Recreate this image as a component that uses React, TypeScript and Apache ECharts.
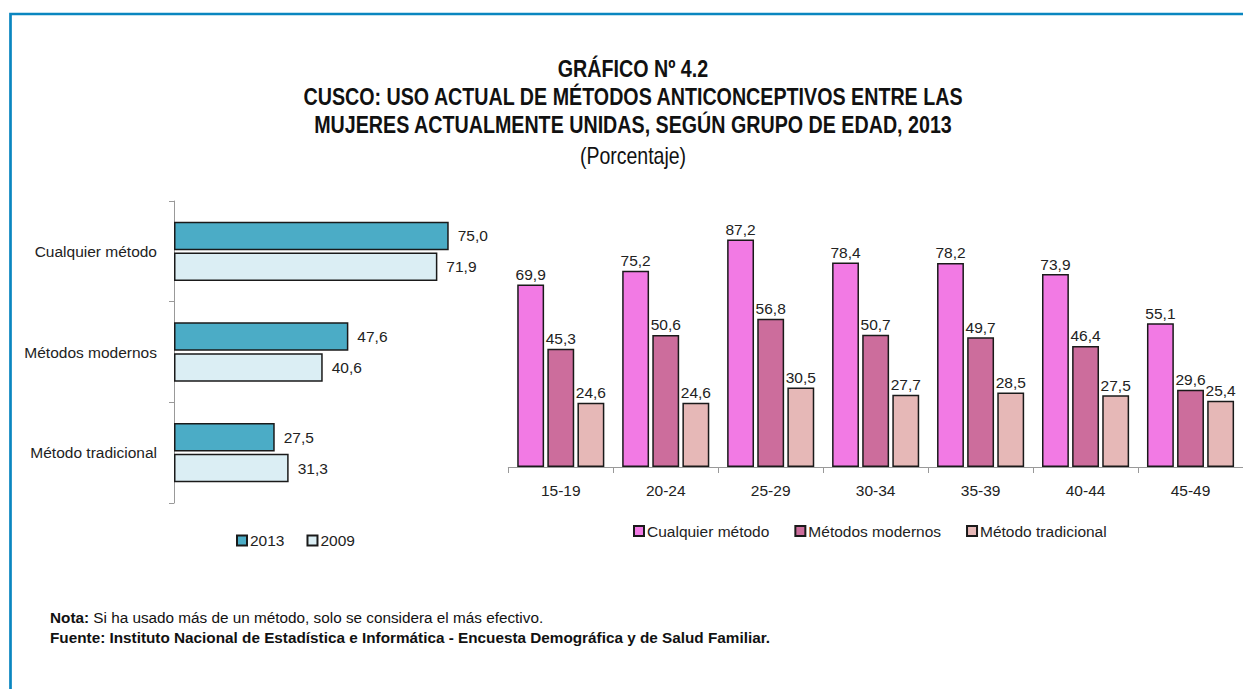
import React, { useEffect, useRef } from "react";
import * as echarts from "echarts";

const methodCats = ["Cualquier método", "Métodos modernos", "Método tradicional"];
const years = ["2013", "2009"];
const values2013 = [75.0, 47.6, 27.5];
const values2009 = [71.9, 40.6, 31.3];

const ageGroups = ["15-19", "20-24", "25-29", "30-34", "35-39", "40-44", "45-49"];
const ageSeriesNames = ["Cualquier método", "Métodos modernos", "Método tradicional"];
const cualquier = [69.9, 75.2, 87.2, 78.4, 78.2, 73.9, 55.1];
const modernos = [45.3, 50.6, 56.8, 50.7, 49.7, 46.4, 29.6];
const tradicional = [24.6, 24.6, 30.5, 27.7, 28.5, 27.5, 25.4];

const titleLines = [
  "GRÁFICO Nº 4.2",
  "CUSCO: USO ACTUAL DE MÉTODOS ANTICONCEPTIVOS ENTRE LAS",
  "MUJERES ACTUALMENTE UNIDAS, SEGÚN GRUPO DE EDAD, 2013",
];
const subtitle = "(Porcentaje)";
const notaLabel = "Nota:";
const notaText = " Si ha usado más de un método, solo se considera el más efectivo.";
const fuenteText =
  "Fuente: Instituto Nacional de Estadística e Informática - Encuesta Demográfica y de Salud Familiar.";

const FONT = "'Liberation Sans', Arial, Helvetica, sans-serif";
const TXT = "#222222";
const FS = 15.5;
const fmt = (p: any) => Number(p.value).toFixed(1).replace(".", ",");

export default function App() {
  const ref = useRef<HTMLDivElement>(null);
  useEffect(() => {
    if (!ref.current) return;
    const chart = echarts.init(ref.current, undefined, { renderer: "svg" });
    const border = { color: "#1a1a1a", width: 1.5 };
    const option: any = {
      animation: false,
      backgroundColor: "#ffffff",
      textStyle: { fontFamily: FONT, color: TXT },
      grid: [
        { left: 174, top: 201, width: 366.3, height: 302, containLabel: false },
        { left: 508.3, top: 206, width: 736.7, height: 261, containLabel: false },
      ],
      xAxis: [
        { gridIndex: 0, type: "value", min: 0, max: 100, show: false },
        {
          gridIndex: 1,
          type: "category",
          data: ageGroups,
          axisLine: { lineStyle: { color: "#999999", width: 1 } },
          axisTick: { show: true, length: 6, lineStyle: { color: "#999999" } },
          axisLabel: { fontFamily: FONT, fontSize: FS, color: TXT, margin: 15 },
        },
      ],
      yAxis: [
        {
          gridIndex: 0,
          type: "category",
          data: methodCats,
          inverse: true,
          axisLine: { lineStyle: { color: "#999999", width: 1 } },
          axisTick: { show: true, length: 5, lineStyle: { color: "#999999" } },
          axisLabel: { fontFamily: FONT, fontSize: FS, color: TXT, margin: 17 },
        },
        { gridIndex: 1, type: "value", min: 0, max: 100, show: false },
      ],
      legend: [
        {
          data: years,
          left: 231,
          top: 527.5,
          itemWidth: 10,
          itemHeight: 10,
          itemGap: 22,
          icon: "rect",
          textStyle: { fontFamily: FONT, fontSize: FS, color: TXT, padding: [0, 0, 0, -2] },
        },
        {
          data: ageSeriesNames,
          left: 628,
          top: 518,
          itemWidth: 10,
          itemHeight: 10,
          itemGap: 25,
          icon: "rect",
          textStyle: { fontFamily: FONT, fontSize: FS, color: TXT, padding: [0, 0, 0, -2] },
        },
      ],
      series: [
        {
          name: years[0],
          type: "bar",
          xAxisIndex: 0,
          yAxisIndex: 0,
          data: values2013,
          barGap: "8%",
          barCategoryGap: "41%",
          itemStyle: { color: "#4bacc6", borderColor: border.color, borderWidth: border.width },
          label: { show: true, position: "right", distance: 9, formatter: fmt, fontFamily: FONT, fontSize: FS, color: TXT },
        },
        {
          name: years[1],
          type: "bar",
          xAxisIndex: 0,
          yAxisIndex: 0,
          data: values2009,
          barGap: "8%",
          barCategoryGap: "41%",
          itemStyle: { color: "#dbeef4", borderColor: border.color, borderWidth: border.width },
          label: { show: true, position: "right", distance: 9, formatter: fmt, fontFamily: FONT, fontSize: FS, color: TXT },
        },
        ...[cualquier, modernos, tradicional].map((d, i) => ({
          name: ageSeriesNames[i],
          type: "bar",
          xAxisIndex: 1,
          yAxisIndex: 1,
          data: d,
          barGap: "12%",
          barCategoryGap: "17%",
          itemStyle: {
            color: ["#f27ae4", "#cc6d9c", "#e6b8b7"][i],
            borderColor: border.color,
            borderWidth: border.width,
          },
          label: { show: true, position: "top", distance: 2, formatter: fmt, fontFamily: FONT, fontSize: FS, color: TXT },
        })),
      ],
      graphic: [
        {
          type: "polyline",
          silent: true,
          shape: { points: [[10.5, 689], [10.5, 14], [1243, 14]] },
          style: { stroke: "#0a86c0", lineWidth: 2.7, fill: null },
        },
        ...titleLines.map((t, i) => ({
          type: "text",
          x: 633,
          y: 68.5 + i * 28,
          scaleX: 0.82,
          style: {
            text: t,
            fill: "#111111",
            font: `bold 24px ${FONT}`,
            textAlign: "center",
            textVerticalAlign: "middle",
          },
        })),
        {
          type: "text",
          x: 633,
          y: 156,
          scaleX: 0.82,
          style: {
            text: subtitle,
            fill: "#111111",
            font: `23.8px ${FONT}`,
            textAlign: "center",
            textVerticalAlign: "middle",
          },
        },
        {
          type: "text",
          x: 50,
          y: 617,
          style: {
            text: `{b|${notaLabel}}{n|${notaText}}`,
            rich: {
              b: { fontFamily: FONT, fontWeight: "bold", fontSize: 15.3, fill: "#111111" },
              n: { fontFamily: FONT, fontSize: 15.3, fill: "#111111" },
            },
            textVerticalAlign: "middle",
          },
        },
        {
          type: "text",
          x: 50,
          y: 637,
          style: {
            text: fuenteText,
            fill: "#111111",
            font: `bold 15.3px ${FONT}`,
            textVerticalAlign: "middle",
          },
        },
      ],
    };
    chart.setOption(option);
    return () => chart.dispose();
  }, []);
  return (
    <div
      ref={ref}
      style={{ position: "absolute", left: 0, top: 0, width: 1243, height: 689 }}
    />
  );
}
